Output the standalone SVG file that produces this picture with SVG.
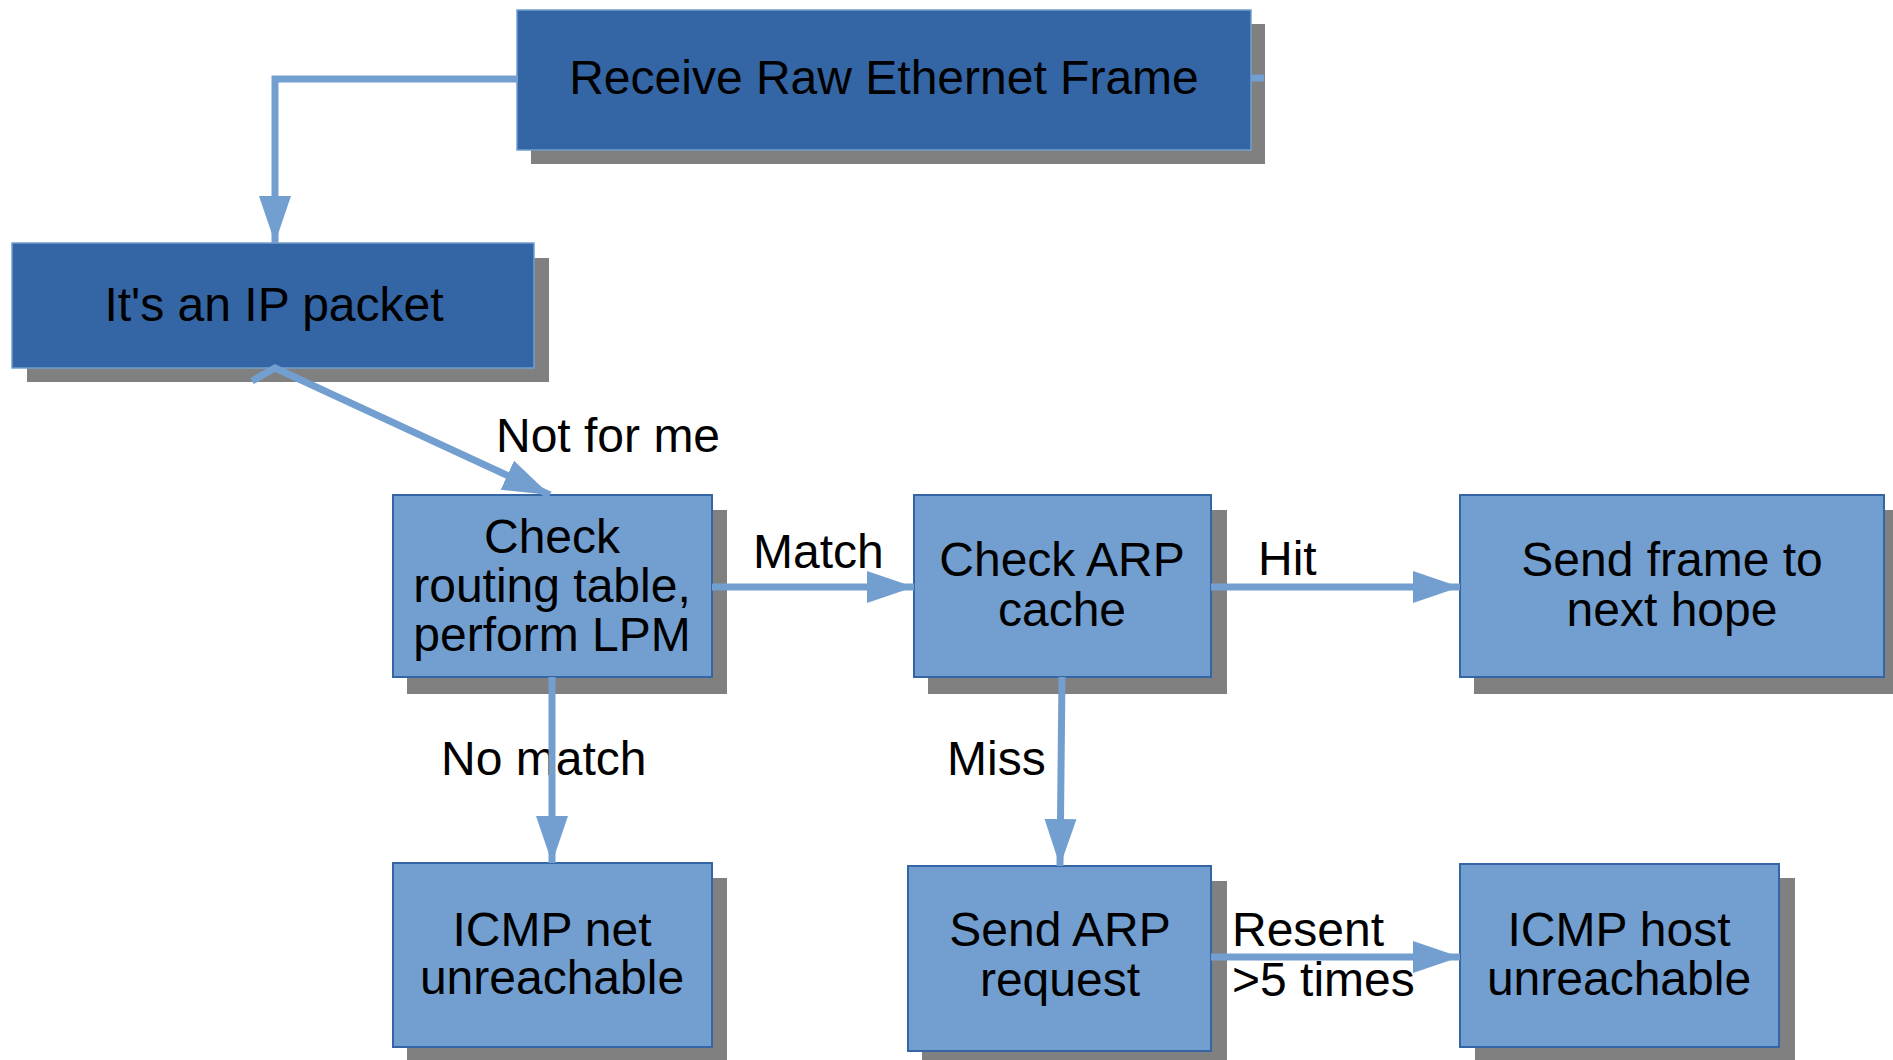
<svg xmlns="http://www.w3.org/2000/svg" width="1893" height="1060" viewBox="0 0 1893 1060">
<style>
.shadow{fill:#808080}
.dark{fill:#3465a4;stroke:#729fcf;stroke-width:1.5}
.light{fill:#729fcf;stroke:#3465a4;stroke-width:2}
.t{font-family:"Liberation Sans",Arial,sans-serif;font-size:48px;fill:#000;text-anchor:middle}
.lbl{font-family:"Liberation Sans",Arial,sans-serif;font-size:48px;fill:#000}
.c{fill:none;stroke:#729fcf;stroke-width:7}
</style>
<defs>
<marker id="ah" markerUnits="userSpaceOnUse" markerWidth="48" markerHeight="34" refX="47" refY="16" orient="auto" viewBox="0 0 48 32">
<path d="M0,0 L47,16 L0,32 z" fill="#729fcf"/>
</marker>
</defs>
<rect width="1893" height="1060" fill="#fff"/>
<g id="n-receive">
<rect class="shadow" x="531" y="24" width="734" height="140"/>
<rect class="dark" x="517" y="10" width="734" height="140"/>
<text class="t" x="884" y="94">Receive Raw Ethernet Frame</text>
</g>
<g id="n-ip">
<rect class="shadow" x="27" y="258" width="522" height="124"/>
<rect class="dark" x="12" y="243" width="522" height="125"/>
<text class="t" x="274" y="321">It's an IP packet</text>
</g>
<g id="n-routing">
<rect class="shadow" x="407" y="510" width="320" height="184"/>
<rect class="light" x="393" y="495" width="319" height="182"/>
<text class="t" x="552" y="553">Check</text>
<text class="t" x="552" y="602">routing table,</text>
<text class="t" x="552" y="651">perform LPM</text>
</g>
<g id="n-arpcache">
<rect class="shadow" x="928" y="510" width="299" height="184"/>
<rect class="light" x="914" y="495" width="297" height="182"/>
<text class="t" x="1062" y="576">Check ARP</text>
<text class="t" x="1062" y="626">cache</text>
</g>
<g id="n-sendframe">
<rect class="shadow" x="1474" y="510" width="430" height="184"/>
<rect class="light" x="1460" y="495" width="424" height="182"/>
<text class="t" x="1672" y="576">Send frame to</text>
<text class="t" x="1672" y="626">next hope</text>
</g>
<g id="n-icmpnet">
<rect class="shadow" x="407" y="878" width="320" height="190"/>
<rect class="light" x="393" y="863" width="319" height="184"/>
<text class="t" x="552" y="946">ICMP net</text>
<text class="t" x="552" y="994">unreachable</text>
</g>
<g id="n-arpreq">
<rect class="shadow" x="922" y="881" width="305" height="190"/>
<rect class="light" x="908" y="866" width="303" height="185"/>
<text class="t" x="1060" y="946">Send ARP</text>
<text class="t" x="1060" y="996">request</text>
</g>
<g id="n-icmphost">
<rect class="shadow" x="1475" y="878" width="320" height="190"/>
<rect class="light" x="1460" y="864" width="319" height="183"/>
<text class="t" x="1619" y="946">ICMP host</text>
<text class="t" x="1619" y="995">unreachable</text>
</g>
<g id="connectors">
<text class="lbl" x="496" y="452">Not for me</text>
<text class="lbl" x="753" y="568">Match</text>
<text class="lbl" x="1258" y="575">Hit</text>
<text class="lbl" x="441" y="775">No match</text>
<text class="lbl" x="947" y="775">Miss</text>
<text class="lbl" x="1232" y="946">Resent</text>
<text class="lbl" x="1232" y="996">&gt;5 times</text>
<polyline class="c" points="518,79 275,79 275,243" marker-end="url(#ah)"/>
<line class="c" x1="1251" y1="78" x2="1264" y2="78"/>
<polyline class="c" points="252,381 275,368 550,495" marker-end="url(#ah)"/>
<line class="c" x1="712" y1="587" x2="914" y2="587" marker-end="url(#ah)"/>
<line class="c" x1="1211" y1="587" x2="1460" y2="587" marker-end="url(#ah)"/>
<line class="c" x1="552" y1="677" x2="552" y2="863" marker-end="url(#ah)"/>
<line class="c" x1="1062" y1="677" x2="1060" y2="866" marker-end="url(#ah)"/>
<line class="c" x1="1211" y1="957" x2="1460" y2="957" marker-end="url(#ah)"/>
</g>
</svg>
